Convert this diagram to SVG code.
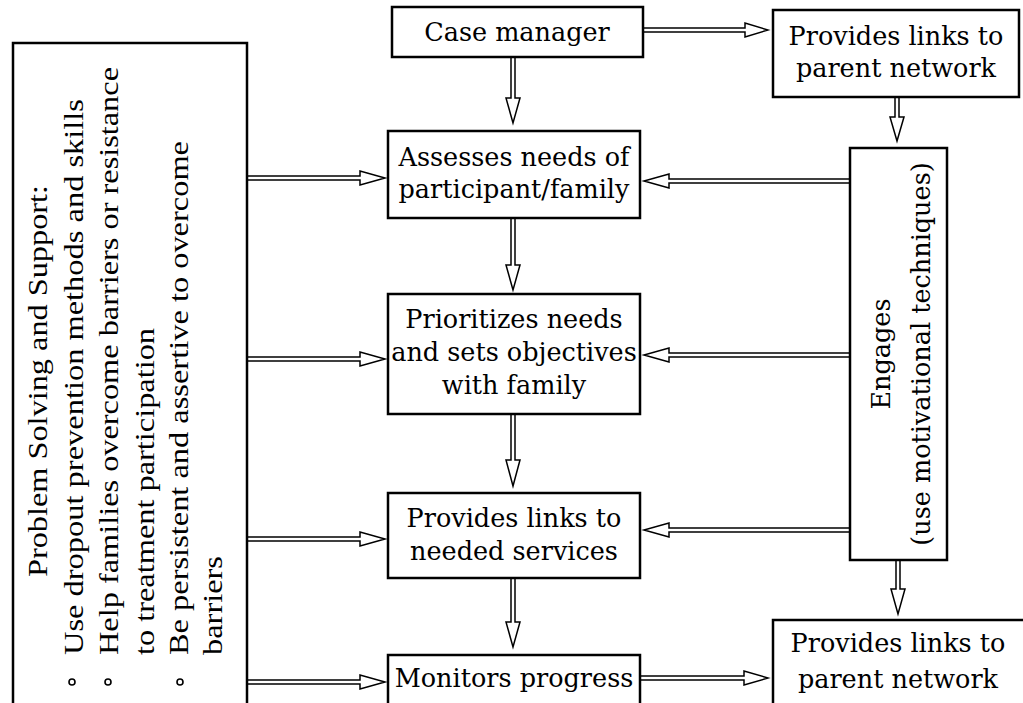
<svg xmlns="http://www.w3.org/2000/svg" width="1023" height="703" viewBox="0 0 1023 703">
<style>
.box{fill:#fff;stroke:#000;stroke-width:2.5}
.t{font-family:"DejaVu Serif","Liberation Serif",serif;font-size:25.5px;fill:#000;text-anchor:middle}
.lt{font-family:"Liberation Serif","Times New Roman",serif;font-size:28px;fill:#000}
.arr{fill:#fff;stroke:#000;stroke-width:1.5;stroke-linejoin:miter}
.bul{fill:#fff;stroke:#000;stroke-width:1.6}
</style>
<rect width="1023" height="703" fill="#fff"/>
<g id="connectors">
<path class="arr" d="M643,28 L745,28 L745,23 L768,30 L745,37 L745,32 L643,32 Z"/>
<path class="arr" d="M511,57 L511,98 L506,98 L513,123 L520,98 L515,98 L515,57 Z"/>
<path class="arr" d="M511,218 L511,265 L506,265 L513,290 L520,265 L515,265 L515,218 Z"/>
<path class="arr" d="M511,414 L511,460 L506,460 L513,486 L520,460 L515,460 L515,414 Z"/>
<path class="arr" d="M511,578 L511,622 L506,622 L513,647 L520,622 L515,622 L515,578 Z"/>
<path class="arr" d="M895,97 L895,117 L890,117 L897,141 L904,117 L899,117 L899,97 Z"/>
<path class="arr" d="M896,560 L896,589 L891,589 L898,614 L905,589 L900,589 L900,560 Z"/>
<path class="arr" d="M640,676 L744,676 L744,671 L768,678 L744,685 L744,680 L640,680 Z"/>
<path class="arr" d="M247,176 L360,176 L360,171 L385,178 L360,185 L360,180 L247,180 Z"/>
<path class="arr" d="M247,357 L360,357 L360,352 L385,359 L360,366 L360,361 L247,361 Z"/>
<path class="arr" d="M247,537 L360,537 L360,532 L385,539 L360,546 L360,541 L247,541 Z"/>
<path class="arr" d="M247,680 L360,680 L360,675 L385,682 L360,689 L360,684 L247,684 Z"/>
<path class="arr" d="M850,179 L669,179 L669,174 L644,181 L669,188 L669,183 L850,183 Z"/>
<path class="arr" d="M850,353 L669,353 L669,348 L644,355 L669,362 L669,357 L850,357 Z"/>
<path class="arr" d="M850,528 L669,528 L669,523 L644,530 L669,537 L669,532 L850,532 Z"/>
</g>
<g id="support">
<rect class="box" x="13" y="43" width="234" height="680"/>
<text class="lt" transform="translate(47,577) rotate(-90)" textLength="392" lengthAdjust="spacingAndGlyphs">Problem Solving and Support:</text>
<text class="lt" transform="translate(83,655) rotate(-90)" textLength="556" lengthAdjust="spacingAndGlyphs">Use dropout prevention methods and skills</text>
<text class="lt" transform="translate(118,655) rotate(-90)" textLength="588" lengthAdjust="spacingAndGlyphs">Help families overcome barriers or resistance</text>
<text class="lt" transform="translate(154,655) rotate(-90)" textLength="327" lengthAdjust="spacingAndGlyphs">to treatment participation</text>
<text class="lt" transform="translate(188,655) rotate(-90)" textLength="514" lengthAdjust="spacingAndGlyphs">Be persistent and assertive to overcome</text>
<text class="lt" transform="translate(222,655) rotate(-90)" textLength="99" lengthAdjust="spacingAndGlyphs">barriers</text>
<circle class="bul" cx="72" cy="682" r="3"/>
<circle class="bul" cx="108" cy="682" r="3"/>
<circle class="bul" cx="180" cy="682" r="3"/>
</g>
<g id="case-manager">
<rect class="box" x="392" y="7" width="251" height="50"/>
<text class="t" x="517" y="41">Case manager</text>
</g>
<g id="parent-top">
<rect class="box" x="773" y="10" width="246" height="87"/>
<text class="t" x="896" y="45">Provides links to</text>
<text class="t" x="896" y="77">parent network</text>
</g>
<g id="assesses">
<rect class="box" x="388" y="131" width="252" height="87"/>
<text class="t" x="514" y="166">Assesses needs of</text>
<text class="t" x="514" y="198">participant/family</text>
</g>
<g id="prioritizes">
<rect class="box" x="388" y="294" width="252" height="120"/>
<text class="t" x="514" y="328">Prioritizes needs</text>
<text class="t" x="514" y="361">and sets objectives</text>
<text class="t" x="514" y="394">with family</text>
</g>
<g id="services">
<rect class="box" x="388" y="493" width="252" height="85"/>
<text class="t" x="514" y="527">Provides links to</text>
<text class="t" x="514" y="560">needed services</text>
</g>
<g id="monitors">
<rect class="box" x="388" y="655" width="252" height="70"/>
<text class="t" x="514" y="687">Monitors progress</text>
</g>
<g id="engages">
<rect class="box" x="850" y="148" width="97" height="412"/>
<text class="t" transform="translate(890,354) rotate(-90)">Engages</text>
<text class="t" transform="translate(930,354) rotate(-90)">(use motivational techniques)</text>
</g>
<g id="parent-bottom">
<rect class="box" x="773" y="620" width="260" height="100"/>
<text class="t" x="898" y="652">Provides links to</text>
<text class="t" x="898" y="688">parent network</text>
</g>
</svg>
